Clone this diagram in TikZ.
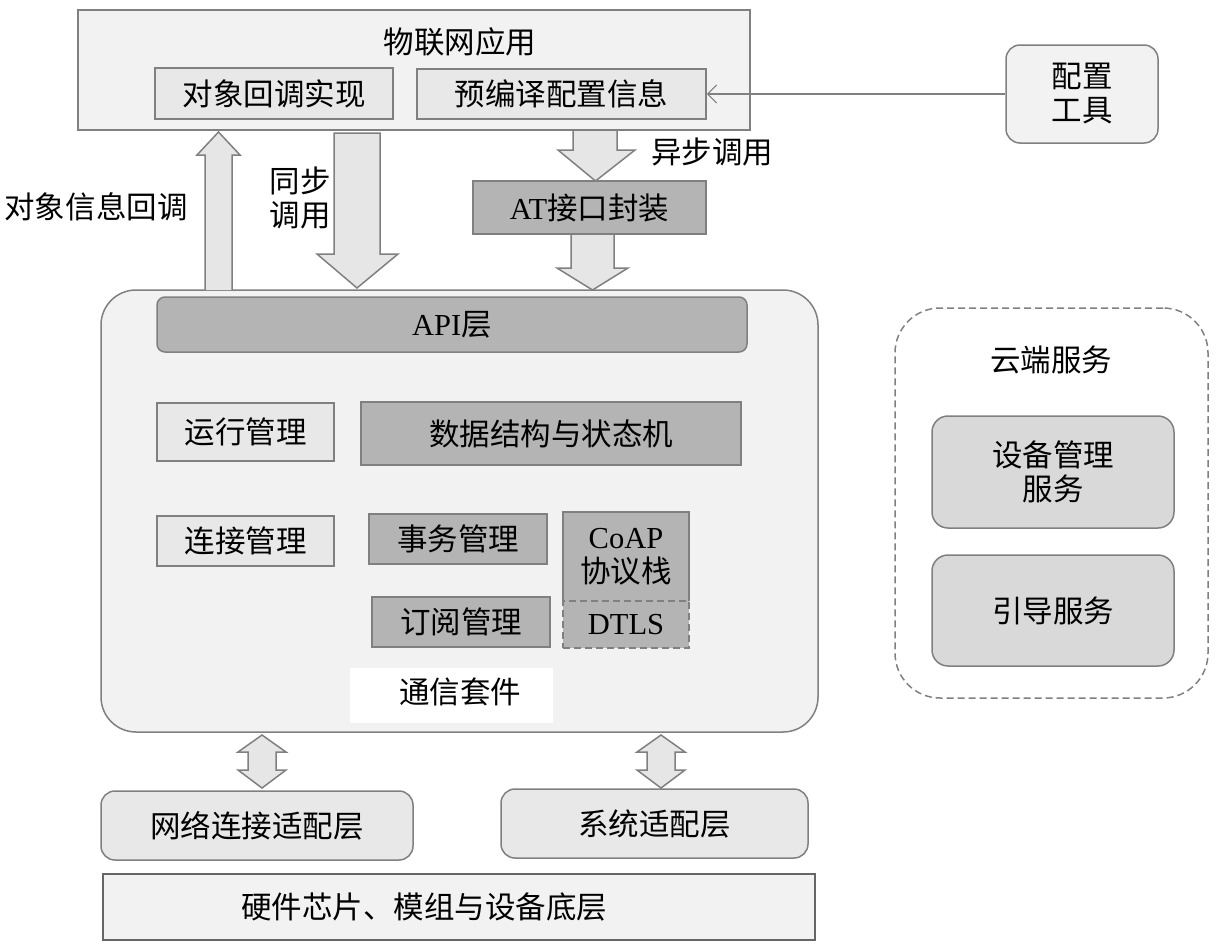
\documentclass[tikz,border=0pt]{standalone}
\usepackage{fontspec}
\setmainfont{Liberation Serif}
\newfontfamily\cjk{Noto Sans CJK SC}
\newfontfamily\lat{Liberation Serif}
\usetikzlibrary{arrows.meta}
\definecolor{bd}{HTML}{808080}
\definecolor{dk}{HTML}{B4B4B4}
\definecolor{lt}{HTML}{E8E8E8}
\definecolor{bgc}{HTML}{F2F2F2}
\definecolor{svc}{HTML}{D9D9D9}
\definecolor{arf}{HTML}{E6E6E6}
\begin{document}
\begin{tikzpicture}[x=1pt,y=-1pt,
  font=\cjk\fontsize{30.5}{34}\selectfont,
  box/.style={draw=bd, line width=1.5pt, inner sep=0pt, align=center},
  darkbox/.style={box, fill=dk},
  lightbox/.style={box, fill=lt},
  outerbox/.style={box, fill=bgc},
  dsh/.style={dash pattern=on 7pt off 4pt},
  blk/.style={draw=bd, line width=1.5pt, fill=arf, line join=miter},
  lbl/.style={inner sep=0pt, align=center}]
\useasboundingbox (0,0) rectangle (1220,948);

% top application box
\node[outerbox, minimum width=672, minimum height=120] (app) at (414,70) {};
\node[lbl] (apptitle) at (460,42) {物联网应用};
\node[lightbox, minimum width=238, minimum height=51] (cbimpl) at (274,93.5) {对象回调实现};
\node[lightbox, minimum width=289, minimum height=50] (precfg) at (561.5,94) {预编译配置信息};

% config tool
\node[box, fill=bgc, rounded corners=14, minimum width=152, minimum height=98] (cfg) at (1082,94) {配置\\工具};
\draw[bd, line width=1.2pt, -{Straight Barb[length=9,width=18]}] (cfg.west) -- (precfg.east);

% AT box
\node[darkbox, minimum width=233, minimum height=53] (at) at (589.5,207.5) {{\lat AT}接口封装};

% main suite box
\node[outerbox, rounded corners=35, minimum width=717, minimum height=442] (suite) at (459.5,511) {};
\node[darkbox, rounded corners=8, minimum width=590, minimum height=55] (api) at (452,324.5) {{\lat API}层};
\node[lightbox, minimum width=177, minimum height=58] (run) at (245.5,432) {运行管理};
\node[darkbox, minimum width=380, minimum height=63] (data) at (551,433.5) {数据结构与状态机};
\node[lightbox, minimum width=177, minimum height=50] (conn) at (245.5,541) {连接管理};
\node[darkbox, minimum width=178, minimum height=50] (trans) at (458,539) {事务管理};
\node[darkbox, minimum width=178, minimum height=50] (sub) at (461,622) {订阅管理};
\node[fill=dk, inner sep=0pt, minimum width=126, minimum height=89, align=center] (coap) at (626,556.5) {{\lat CoAP}\\协议栈};
\draw[bd, line width=1.5pt] (coap.south west) -- (coap.north west) -- (coap.north east) -- (coap.south east);
\node[box, fill=dk, dsh, minimum width=126, minimum height=47] (dtls) at (626,624.5) {\lat DTLS};
\node[fill=white, inner sep=0pt, minimum width=203, minimum height=55] (suitepatch) at (451.5,695.5) {};
\node[lbl] (suitelbl) at (460,692) {通信套件};

% block arrows
\draw[blk] (205,290) -- (205,155) -- (197,155) -- (218.5,132) -- (240,155) -- (232,155) -- (232,290);
\draw[blk] (334,133) -- (334,254) -- (317,254) -- (357,288) -- (398,254) -- (380,254) -- (380,133) -- cycle;
\draw[blk] (573,131) -- (573,150) -- (558,150) -- (595.5,181) -- (635,150) -- (617,150) -- (617,131);
\draw[blk] (571,235) -- (571,268) -- (557,268) -- (592.5,290) -- (628,268) -- (614,268) -- (614,235);

\node[lbl] (cbinfo) at (96,207) {对象信息回调};
\node[lbl] (synclbl) at (300,198) {同步\\调用};
\node[lbl] (asynclbl) at (712,152) {异步调用};

% double arrows
\foreach \cx in {262,661}{
  \draw[blk] (\cx-14,752) -- (\cx-24,752) -- (\cx,735) -- (\cx+24,752) -- (\cx+14,752)
     -- (\cx+14,770) -- (\cx+24,770) -- (\cx,788) -- (\cx-24,770) -- (\cx-14,770) -- cycle;
}

% adaptation layers
\node[box, fill=lt, rounded corners=14, minimum width=312, minimum height=69] (net) at (257,825.5) {网络连接适配层};
\node[box, fill=lt, rounded corners=14, minimum width=307, minimum height=69] (sys) at (654.5,823.5) {系统适配层};
\node[box, draw=gray!80!black, line width=2.5pt, fill=bgc, minimum width=712, minimum height=66] (hw) at (459,907) {};
\node[lbl] (hwlbl) at (424,907) {硬件芯片、模组与设备底层};

% cloud
\node[box, dsh, rounded corners=45, minimum width=313, minimum height=390] (cloud) at (1051.5,503) {};
\node[lbl] (cloudlbl) at (1051,360) {云端服务};
\node[box, fill=svc, rounded corners=16, minimum width=242, minimum height=112] (dev) at (1053,472) {设备管理\\服务};
\node[box, fill=svc, rounded corners=16, minimum width=242, minimum height=111] (boot) at (1053,610.5) {引导服务};
\end{tikzpicture}
\end{document}
